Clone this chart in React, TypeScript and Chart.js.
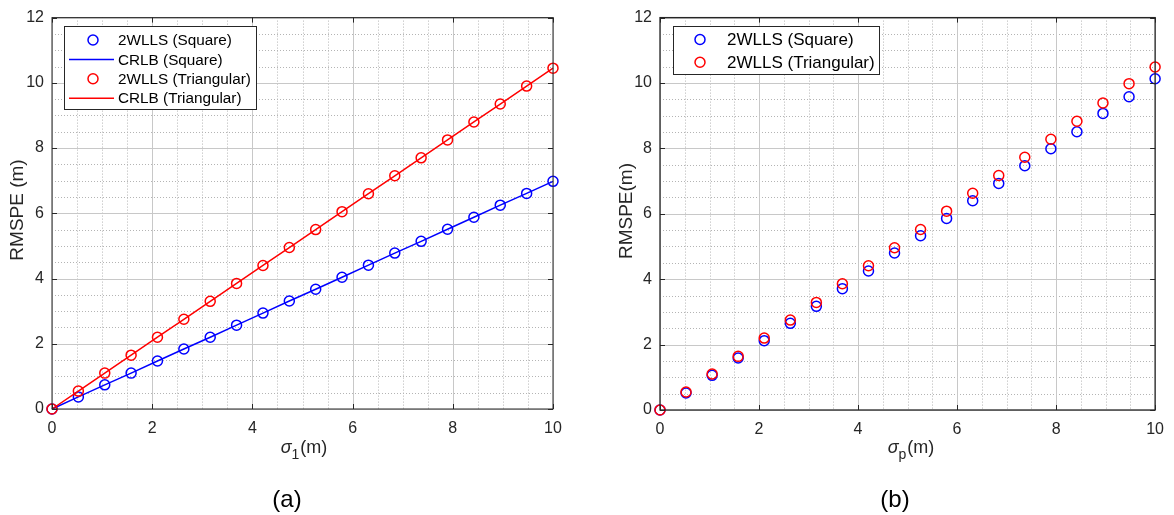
import React, { useEffect, useRef } from "react";
import { Chart, registerables } from "chart.js";

Chart.register(...registerables);

// ---------- data ----------
const sigmaValues = [0, 0.526, 1.053, 1.579, 2.105, 2.632, 3.158, 3.684, 4.211, 4.737, 5.263, 5.789, 6.316, 6.842, 7.368, 7.895, 8.421, 8.947, 9.474, 10];

// panel (a)
const wllsSquareA = [0, 0.37, 0.74, 1.1, 1.47, 1.84, 2.2, 2.57, 2.94, 3.31, 3.67, 4.04, 4.41, 4.78, 5.14, 5.51, 5.88, 6.25, 6.61, 6.98];
const crlbSquareA = [0, 0.37, 0.74, 1.1, 1.47, 1.84, 2.2, 2.57, 2.94, 3.31, 3.67, 4.04, 4.41, 4.78, 5.14, 5.51, 5.88, 6.25, 6.61, 6.98];
const wllsTriA = [0, 0.55, 1.1, 1.65, 2.2, 2.75, 3.3, 3.85, 4.4, 4.95, 5.5, 6.05, 6.6, 7.15, 7.7, 8.25, 8.8, 9.35, 9.9, 10.45];
const crlbTriA = [0, 0.55, 1.1, 1.65, 2.2, 2.75, 3.3, 3.85, 4.4, 4.95, 5.5, 6.05, 6.6, 7.15, 7.7, 8.25, 8.8, 9.35, 9.9, 10.45];

// panel (b)
const wllsSquareB = [0, 0.52, 1.06, 1.59, 2.12, 2.65, 3.17, 3.71, 4.25, 4.8, 5.33, 5.86, 6.4, 6.93, 7.47, 7.99, 8.51, 9.07, 9.58, 10.13];
const wllsTriB = [0, 0.55, 1.1, 1.64, 2.2, 2.75, 3.29, 3.86, 4.41, 4.96, 5.52, 6.08, 6.63, 7.17, 7.73, 8.28, 8.83, 9.39, 9.98, 10.49];

const xTickValues = [0, 2, 4, 6, 8, 10];
const yTickValues = [0, 2, 4, 6, 8, 10, 12];
const xMinorStep = 0.5;
const yMinorStep = 0.5;

const legendLabelsA = ["2WLLS (Square)", "CRLB (Square)", "2WLLS (Triangular)", "CRLB (Triangular)"];
const legendLabelsB = ["2WLLS (Square)", "2WLLS (Triangular)"];

const BLUE = "#0000ff";
const RED = "#ff0000";
const AXIS = "#262626";
const FONT = '"Liberation Sans", Arial, Helvetica, sans-serif';

const toPoints = (ys: number[]) => ys.map((y, i) => ({ x: sigmaValues[i], y }));

type LegendItem = { label: string; color: string; kind: "marker" | "line" };

type PanelCfg = {
  offsetX: number;
  width: number;
  height: number;
  area: { left: number; right: number; top: number; bottom: number };
  tickFont: number;
  yTitle: string;
  yTitleX: number;
  yTitleY: number;
  sub: string;
  xTitleX: number;
  xTitleBaseline: number;
  panelLabel: string;
  panelX: number;
  panelY: number;
  legend: {
    x: number; y: number; w: number; h: number;
    row0: number; rowH: number;
    markerX: number; lineX0: number; lineX1: number; textX: number;
    font: number; radius: number;
    items: LegendItem[];
  };
  radius: number;
  boxWidth: number;
  datasets: any[];
};

function makePlugin(cfg: PanelCfg) {
  return {
    id: "matlabStyle",
    beforeDatasetsDraw(chart: any) {
      const ctx = chart.ctx as CanvasRenderingContext2D;
      const a = chart.chartArea;
      const xs = chart.scales.x;
      const ys = chart.scales.y;
      ctx.save();
      ctx.lineWidth = 1;
      ctx.strokeStyle = "#b4b4b4";
      ctx.setLineDash([1, 2]);
      for (let v = xMinorStep; v < 10; v += xMinorStep) {
        if (Math.abs(v / 2 - Math.round(v / 2)) < 1e-6) continue;
        const px = Math.round(xs.getPixelForValue(v)) + 0.5;
        ctx.beginPath(); ctx.moveTo(px, a.top); ctx.lineTo(px, a.bottom); ctx.stroke();
      }
      for (let v = yMinorStep; v < 12; v += yMinorStep) {
        if (Math.abs(v / 2 - Math.round(v / 2)) < 1e-6) continue;
        const py = Math.round(ys.getPixelForValue(v)) + 0.5;
        ctx.beginPath(); ctx.moveTo(a.left, py); ctx.lineTo(a.right, py); ctx.stroke();
      }
      ctx.setLineDash([]);
      ctx.strokeStyle = "#c8c8c8";
      xTickValues.forEach((v) => {
        const px = Math.round(xs.getPixelForValue(v)) + 0.5;
        ctx.beginPath(); ctx.moveTo(px, a.top); ctx.lineTo(px, a.bottom); ctx.stroke();
      });
      yTickValues.forEach((v) => {
        const py = Math.round(ys.getPixelForValue(v)) + 0.5;
        ctx.beginPath(); ctx.moveTo(a.left, py); ctx.lineTo(a.right, py); ctx.stroke();
      });
      ctx.restore();
    },
    afterDatasetsDraw(chart: any) {
      const ctx = chart.ctx as CanvasRenderingContext2D;
      const a = chart.chartArea;
      const xs = chart.scales.x;
      const ys = chart.scales.y;
      ctx.save();
      ctx.strokeStyle = AXIS;
      ctx.lineWidth = cfg.boxWidth;
      ctx.setLineDash([]);
      ctx.strokeRect(a.left, a.top, a.right - a.left, a.bottom - a.top);
      const tl = 5;
      ctx.lineWidth = 1;
      xTickValues.forEach((v) => {
        const px = Math.round(xs.getPixelForValue(v)) + 0.5;
        ctx.beginPath();
        ctx.moveTo(px, a.bottom); ctx.lineTo(px, a.bottom - tl);
        ctx.moveTo(px, a.top); ctx.lineTo(px, a.top + tl);
        ctx.stroke();
      });
      yTickValues.forEach((v) => {
        const py = Math.round(ys.getPixelForValue(v)) + 0.5;
        ctx.beginPath();
        ctx.moveTo(a.left, py); ctx.lineTo(a.left + tl, py);
        ctx.moveTo(a.right, py); ctx.lineTo(a.right - tl, py);
        ctx.stroke();
      });
      ctx.restore();
    },
    afterDraw(chart: any) {
      const ctx = chart.ctx as CanvasRenderingContext2D;
      const o = cfg.offsetX;
      ctx.save();
      ctx.fillStyle = AXIS;
      ctx.save();
      ctx.translate(cfg.yTitleX - o, cfg.yTitleY);
      ctx.rotate(-Math.PI / 2);
      ctx.font = `19px ${FONT}`;
      ctx.textAlign = "center";
      ctx.textBaseline = "middle";
      ctx.fillText(cfg.yTitle, 0, 0);
      ctx.restore();
      const bigFont = `18px ${FONT}`;
      const sigFont = `italic 18px ${FONT}`;
      const subFont = `14px ${FONT}`;
      ctx.textBaseline = "alphabetic";
      ctx.textAlign = "left";
      ctx.font = sigFont;
      const wSig = ctx.measureText("σ").width;
      ctx.font = subFont;
      const wSub = ctx.measureText(cfg.sub).width;
      ctx.font = bigFont;
      const wM = ctx.measureText("(m)").width;
      const total = wSig + wSub + 1 + wM;
      let x = cfg.xTitleX - o - total / 2;
      ctx.font = sigFont;
      ctx.fillText("σ", x, cfg.xTitleBaseline);
      x += wSig;
      ctx.font = subFont;
      ctx.fillText(cfg.sub, x, cfg.xTitleBaseline + 6);
      x += wSub + 1;
      ctx.font = bigFont;
      ctx.fillText("(m)", x, cfg.xTitleBaseline);
      ctx.fillStyle = "#000";
      ctx.font = `24px ${FONT}`;
      ctx.textAlign = "center";
      ctx.textBaseline = "middle";
      ctx.fillText(cfg.panelLabel, cfg.panelX - o, cfg.panelY);
      const L = cfg.legend;
      ctx.fillStyle = "#ffffff";
      ctx.fillRect(L.x - o, L.y, L.w, L.h);
      ctx.strokeStyle = AXIS;
      ctx.lineWidth = 1;
      ctx.strokeRect(Math.round(L.x - o) + 0.5, Math.round(L.y) + 0.5, L.w, L.h);
      ctx.font = `${L.font}px ${FONT}`;
      ctx.textAlign = "left";
      ctx.textBaseline = "middle";
      L.items.forEach((it, i) => {
        const cy = L.row0 + i * L.rowH;
        ctx.strokeStyle = it.color;
        ctx.lineWidth = 1.5;
        if (it.kind === "marker") {
          ctx.beginPath();
          ctx.arc(L.markerX - o, cy, L.radius, 0, Math.PI * 2);
          ctx.stroke();
        } else {
          ctx.beginPath();
          ctx.moveTo(L.lineX0 - o, cy);
          ctx.lineTo(L.lineX1 - o, cy);
          ctx.stroke();
        }
        ctx.fillStyle = "#000";
        ctx.fillText(it.label, L.textX - o, cy + 1);
      });
      ctx.restore();
    },
  };
}

function markerSet(label: string, ys: number[], color: string, radius: number, order: number) {
  return {
    label,
    data: toPoints(ys),
    showLine: false,
    borderColor: color,
    backgroundColor: "rgba(0,0,0,0)",
    pointStyle: "circle",
    pointRadius: radius,
    pointBorderWidth: 1.5,
    pointBorderColor: color,
    pointBackgroundColor: "rgba(0,0,0,0)",
    clip: false,
    order,
  };
}

function lineSet(label: string, ys: number[], color: string, order: number) {
  return {
    label,
    data: toPoints(ys),
    showLine: true,
    borderColor: color,
    borderWidth: 1.5,
    backgroundColor: color,
    pointRadius: 0,
    tension: 0,
    clip: false,
    order,
  };
}

const panelA: PanelCfg = {
  offsetX: 0,
  width: 600,
  height: 515,
  area: { left: 52, right: 553, top: 15, bottom: 409 },
  tickFont: 16,
  yTitle: "RMSPE (m)",
  yTitleX: 18,
  yTitleY: 210,
  sub: "1",
  xTitleX: 304,
  xTitleBaseline: 453,
  panelLabel: "(a)",
  panelX: 287,
  panelY: 500,
  legend: {
    x: 64, y: 26, w: 192, h: 83, row0: 40, rowH: 19.4,
    markerX: 93, lineX0: 69, lineX1: 114, textX: 118, font: 15.3, radius: 5,
    items: [
      { label: legendLabelsA[0], color: BLUE, kind: "marker" },
      { label: legendLabelsA[1], color: BLUE, kind: "line" },
      { label: legendLabelsA[2], color: RED, kind: "marker" },
      { label: legendLabelsA[3], color: RED, kind: "line" },
    ],
  },
  radius: 5,
  boxWidth: 1,
  datasets: [
    markerSet(legendLabelsA[2], wllsTriA, RED, 5, 0),
    lineSet(legendLabelsA[3], crlbTriA, RED, 0),
    markerSet(legendLabelsA[0], wllsSquareA, BLUE, 5, 1),
    lineSet(legendLabelsA[1], crlbSquareA, BLUE, 1),
  ],
};

const panelB: PanelCfg = {
  offsetX: 600,
  width: 574,
  height: 515,
  area: { left: 60, right: 562, top: 13, bottom: 410 },
  tickFont: 16,
  yTitle: "RMSPE(m)",
  yTitleX: 627,
  yTitleY: 211,
  sub: "p",
  xTitleX: 911,
  xTitleBaseline: 453,
  panelLabel: "(b)",
  panelX: 895,
  panelY: 500,
  legend: {
    x: 673, y: 26, w: 206, h: 48, row0: 39.5, rowH: 22.7,
    markerX: 700, lineX0: 680, lineX1: 720, textX: 727, font: 17, radius: 5,
    items: [
      { label: legendLabelsB[0], color: BLUE, kind: "marker" },
      { label: legendLabelsB[1], color: RED, kind: "marker" },
    ],
  },
  radius: 5,
  boxWidth: 1.3,
  datasets: [
    markerSet(legendLabelsB[1], wllsTriB, RED, 5, 0),
    markerSet(legendLabelsB[0], wllsSquareB, BLUE, 5, 1),
  ],
};

function Panel({ cfg }: { cfg: PanelCfg }) {
  const ref = useRef<HTMLCanvasElement | null>(null);
  useEffect(() => {
    if (!ref.current) return;
    const a = cfg.area;
    const chart = new Chart(ref.current, {
      type: "scatter",
      data: { datasets: cfg.datasets },
      options: {
        animation: false,
        responsive: false,
        devicePixelRatio: 1,
        layout: { padding: { left: 0, top: a.top, right: cfg.width - a.right, bottom: 0 } },
        plugins: { legend: { display: false }, tooltip: { enabled: false } },
        events: [],
        scales: {
          x: {
            type: "linear",
            min: 0,
            max: 10,
            afterBuildTicks: (s: any) => { s.ticks = xTickValues.map((v) => ({ value: v })); },
            afterFit: (s: any) => { s.height = cfg.height - a.bottom; },
            ticks: {
              font: { family: FONT, size: cfg.tickFont },
              color: AXIS,
              padding: 10,
              maxRotation: 0,
              autoSkip: false,
            },
            grid: { display: false, drawTicks: false },
            border: { display: false },
          },
          y: {
            type: "linear",
            min: 0,
            max: 12,
            afterBuildTicks: (s: any) => { s.ticks = yTickValues.map((v) => ({ value: v })); },
            afterFit: (s: any) => { s.width = a.left; },
            ticks: {
              font: { family: FONT, size: cfg.tickFont },
              color: AXIS,
              padding: 8,
              autoSkip: false,
            },
            grid: { display: false, drawTicks: false },
            border: { display: false },
          },
        },
      } as any,
      plugins: [makePlugin(cfg)],
    });
    return () => chart.destroy();
  }, [cfg]);
  return (
    <canvas
      ref={ref}
      width={cfg.width}
      height={cfg.height}
      style={{ position: "absolute", left: cfg.offsetX, top: 0, width: cfg.width, height: cfg.height, display: "block" }}
    />
  );
}

export default function App() {
  return (
    <div style={{ position: "absolute", left: 0, top: 0, width: 1174, height: 515, background: "#ffffff", overflow: "hidden" }}>
      <Panel cfg={panelA} />
      <Panel cfg={panelB} />
    </div>
  );
}
